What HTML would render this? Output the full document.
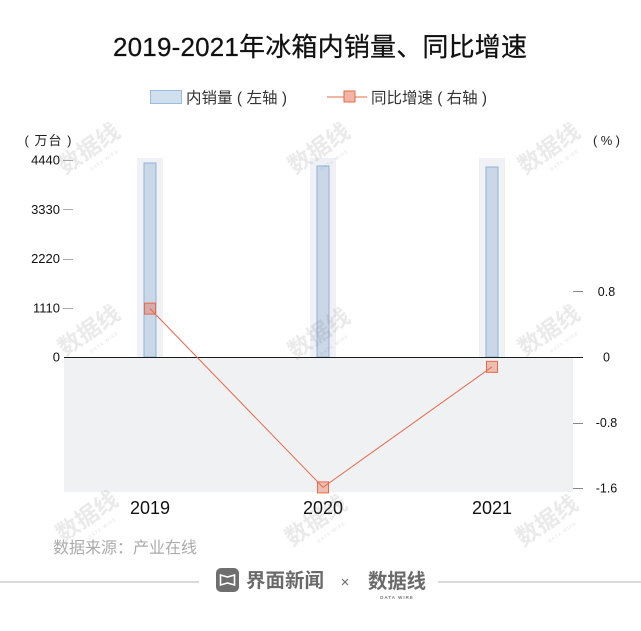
<!DOCTYPE html>
<html lang="zh">
<head>
<meta charset="utf-8">
<title>2019-2021年冰箱内销量、同比增速</title>
<style>
html,body{margin:0;padding:0;background:#fff;}
svg{display:block;}
text{font-family:"Liberation Sans","Noto Sans CJK SC",sans-serif;}
</style>
</head>
<body>
<svg id="chart" xmlns="http://www.w3.org/2000/svg" width="641" height="631" viewBox="0 0 641 631">
  <rect width="641" height="631" fill="#fff"/>
  <text x="320" y="56" font-size="26" text-anchor="middle" fill="#111" stroke="#111" stroke-width="0.25" textLength="414" lengthAdjust="spacing">2019-2021年冰箱内销量、同比增速</text>

  <g>
    <rect x="150.5" y="90.5" width="31" height="13" fill="#d0dfee" stroke="#9dbbdc"/>
    <text x="186" y="103" font-size="15.5" fill="#333" textLength="101" lengthAdjust="spacing">内销量 ( 左轴 )</text>
    <line x1="327" y1="97" x2="367" y2="97" stroke="#e8694a" stroke-width="1"/>
    <rect x="344" y="91" width="11" height="11" fill="#f0b5a5" stroke="#e8694a"/>
    <text x="371" y="103" font-size="15.5" fill="#333" textLength="116" lengthAdjust="spacing">同比增速 ( 右轴 )</text>
  </g>

  <text x="48" y="145" font-size="13" text-anchor="middle" fill="#222" textLength="47" lengthAdjust="spacing">( 万台 )</text>
  <text x="606.5" y="145" font-size="13" text-anchor="middle" fill="#222" textLength="27" lengthAdjust="spacing">( % )</text>

  <g id="plot"></g>

  <g id="watermarks"></g>

  <text x="53" y="553" font-size="16" fill="#ababab">数据来源：产业在线</text>

  <g>
    <line x1="0" y1="582" x2="199" y2="582" stroke="#b5b5b5" stroke-width="1"/>
    <line x1="438" y1="582" x2="641" y2="582" stroke="#b5b5b5" stroke-width="1"/>
    <rect x="216" y="568" width="23" height="24" rx="5" fill="#6e6e6e"/>
    <path d="M220.5 575 L227.5 577 L234.5 575 V585 L227.5 583 L220.5 585 Z" fill="none" stroke="#fff" stroke-width="1.6"/>
    <text x="246" y="587" font-size="19.5" font-weight="700" fill="#6a6a6a">界面新闻</text>
    <text x="345" y="587" font-size="15" text-anchor="middle" fill="#6a6a6a">×</text>
    <text x="397" y="588" font-size="20" font-weight="700" text-anchor="middle" fill="#6a6a6a" textLength="58" lengthAdjust="spacingAndGlyphs">数据线</text>
    <text x="397" y="599" font-size="4.5" font-weight="700" text-anchor="middle" fill="#777" letter-spacing="1">DATA WIRE</text>
  </g>
</svg>
<script>
var categories = ['2019', '2020', '2021'];
var salesValues = [4372, 4305, 4282];
var growthValues = [0.59, -1.59, -0.12];
var leftTicks = [0, 1110, 2220, 3330, 4440];
var rightTicks = [0.8, 0, -0.8, -1.6];

var NS = 'http://www.w3.org/2000/svg';
var plot = document.getElementById('plot');
var baseY = 357;

function xPos(i) { return 150 + 171 * i + (i === 1 ? 2 : 0); }
function yLeft(v) { return baseY - v * (197 / 4440); }
function yRight(v) { return baseY - v * 82; }

function make(tag, attrs, parent) {
  var el = document.createElementNS(NS, tag);
  for (var k in attrs) { el.setAttribute(k, attrs[k]); }
  (parent || plot).appendChild(el);
  return el;
}

var negBg = make('rect', { x: 64, y: baseY, width: 509, height: 135, fill: '#f0f1f3' });



categories.forEach(function (c, i) {
  var band = make('rect', { x: xPos(i) - 13, y: 158, width: 26, height: baseY - 158, fill: '#eff1f4' });
  
  

  var top = yLeft(salesValues[i]);
  var bar = make('rect', { x: xPos(i) - 6, y: top, width: 12, height: baseY - top, fill: '#c9d7e6', stroke: '#90b3d9', 'stroke-width': 1 });
  
  

  var label = make('text', { x: xPos(i), y: 514, 'font-size': 18, 'text-anchor': 'middle', fill: '#111' });
  label.textContent = c;
  
  
});

leftTicks.forEach(function (t) {
  var y = yLeft(t);
  if (t !== 0) {
    var tick = make('line', { x1: 63, x2: 73, y1: Math.round(y) + 0.5, y2: Math.round(y) + 0.5, stroke: '#aaa', 'stroke-width': 1 });
    
    
  }
  var label = make('text', { x: 60, y: y + 4.5, 'font-size': 13, 'text-anchor': 'end', fill: '#111' });
  label.textContent = t;
  
  
});

rightTicks.forEach(function (t) {
  var y = yRight(t);
  var tick = make('line', { x1: 573, x2: 583, y1: Math.round(y) + 0.5, y2: Math.round(y) + 0.5, stroke: '#888', 'stroke-width': 1 });
  
  
  var label = make('text', { x: 606.5, y: y + 4.5, 'font-size': 12.5, 'text-anchor': 'middle', fill: '#111' });
  label.textContent = t;
  
  
});

var axis = make('line', { x1: 64, x2: 583, y1: baseY + 0.5, y2: baseY + 0.5, stroke: '#1a1a1a', 'stroke-width': 1 });



var pts = growthValues.map(function (v, i) { return xPos(i) + ',' + yRight(v); }).join(' ');
var growthLine = make('polyline', { points: pts, fill: 'none', stroke: '#e8694a', 'stroke-width': 1 });



growthValues.forEach(function (v, i) {
  var m = make('rect', { x: xPos(i) - 5.5, y: yRight(v) - 5.5, width: 11, height: 11, fill: 'rgba(232,105,74,0.38)', stroke: '#e8694a', 'stroke-width': 1 });
  
  
});

var wmGroup = document.getElementById('watermarks');
[[90, 150], [320, 150], [550, 150], [90, 332], [320, 335], [550, 332], [88, 518], [317, 522], [548, 522]].forEach(function (p, n) {
  var g = make('g', { transform: 'translate(' + p[0] + ',' + p[1] + ') rotate(-35)' }, wmGroup);
  
  
  var t = make('text', { x: 0, y: 6, 'font-size': 23, 'font-weight': 700, 'text-anchor': 'middle', fill: 'rgba(130,130,130,0.17)' }, g);
  t.textContent = '数据线';
  var s = make('text', { x: 6, y: 18, 'font-size': 4.5, 'font-weight': 700, 'text-anchor': 'middle', 'letter-spacing': 1, fill: 'rgba(130,130,130,0.17)' }, g);
  s.textContent = 'DATA WIRE';
});
</script>
</body>
</html>
